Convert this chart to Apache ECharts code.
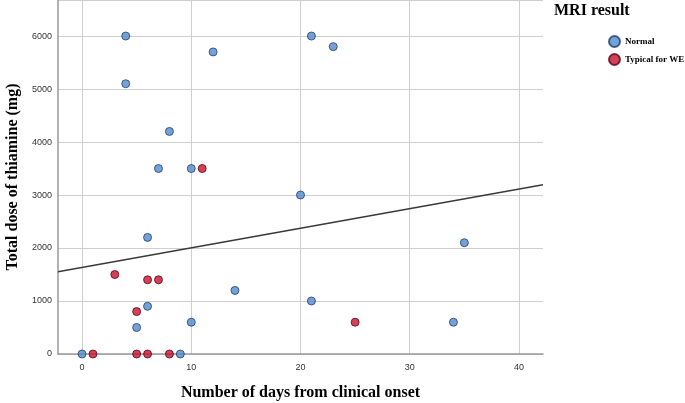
<!DOCTYPE html>
<html>
<head>
<meta charset="utf-8">
<script src="https://cdn.jsdelivr.net/npm/echarts@6/dist/echarts.min.js"></script>
<style>html,body{margin:0;padding:0;background:#fff}#c{width:685px;height:403px}</style>
</head>
<body>
<div id="c"></div>
<script>
// Normal MRI result: [days, dose]
const normalPoints = [
  [4, 6000], [4, 5100], [12, 5700], [21, 6000], [23, 5800], [8, 4200],
  [7, 3500], [10, 3500], [20, 3000], [6, 2200], [35, 2100], [14, 1200],
  [21, 1000], [6, 900], [5, 500], [10, 600], [34, 600], [0, 0], [9, 0]
];
// Typical for WE
const wePoints = [
  [11, 3500], [3, 1500], [6, 1400], [7, 1400], [5, 800], [25, 600],
  [1, 0], [5, 0], [6, 0], [8, 0]
];
// Fitted regression line endpoints
const fitLine = [[-2.2, 1550], [42.2, 3192]];
const xTicks = [0, 10, 20, 30, 40];
const seriesNames = ['Normal', 'Typical for WE'];

const chart = echarts.init(document.getElementById('c'));
const serif = '"Liberation Serif", "Times New Roman", serif';
const sans = '"Liberation Sans", Arial, sans-serif';
chart.setOption({
  animation: false,
  grid: { left: 58, right: 142, top: 0, bottom: 49, outerBoundsMode: 'none', containLabel: false },
  graphic: [{
    type: 'text', left: 554, top: 3,
    style: { text: 'MRI result', font: 'bold 16px ' + serif, fill: '#000' }
  }],
  legend: {
    orient: 'vertical', left: 603, top: 30, itemWidth: 11, itemHeight: 11, itemGap: 5,
    data: seriesNames,
    textStyle: { fontFamily: serif, fontWeight: 'bold', fontSize: 9, color: '#000' }
  },
  xAxis: {
    type: 'value', min: -2.2, max: 42.2,
    name: 'Number of days from clinical onset', nameLocation: 'middle', nameGap: 31,
    nameTextStyle: { fontFamily: serif, fontWeight: 'bold', fontSize: 16, color: '#000' },
    axisLine: { show: true, onZero: false, lineStyle: { color: '#9a9a9a', width: 1.5 } },
    axisTick: { show: false, customValues: xTicks },
    axisLabel: { customValues: xTicks, color: '#333', fontFamily: sans, fontSize: 9, margin: 9 },
    splitLine: { show: true, lineStyle: { color: '#cfcfcf', width: 1 } }
  },
  yAxis: {
    type: 'value', min: 0, max: 6680, interval: 1000,
    name: 'Total dose of thiamine (mg)', nameLocation: 'middle', nameGap: 35,
    nameTextStyle: { fontFamily: serif, fontWeight: 'bold', fontSize: 16, color: '#000' },
    axisLine: { show: true, onZero: false, lineStyle: { color: '#9a9a9a', width: 1.5 } },
    axisTick: { show: false },
    axisLabel: { showMaxLabel: false, formatter: v => String(v), color: '#333', fontFamily: sans, fontSize: 9, margin: 6 },
    splitLine: { show: true, lineStyle: { color: '#cfcfcf', width: 1 } }
  },
  series: [
    {
      name: 'Normal', type: 'scatter', data: normalPoints, symbolSize: 8, z: 3,
      itemStyle: { color: '#5289d0', borderColor: '#223f6a', borderWidth: 1 }
    },
    {
      name: 'Typical for WE', type: 'scatter', data: wePoints, symbolSize: 8, z: 3,
      itemStyle: { color: '#c8102e', borderColor: '#5a0a14', borderWidth: 1 }
    },
    {
      name: 'fit', type: 'line', data: fitLine, showSymbol: false, symbol: 'none', z: 2,
      lineStyle: { color: '#3a3a3a', width: 1.5 }, silent: true
    }
  ]
});
</script>
</body>
</html>
